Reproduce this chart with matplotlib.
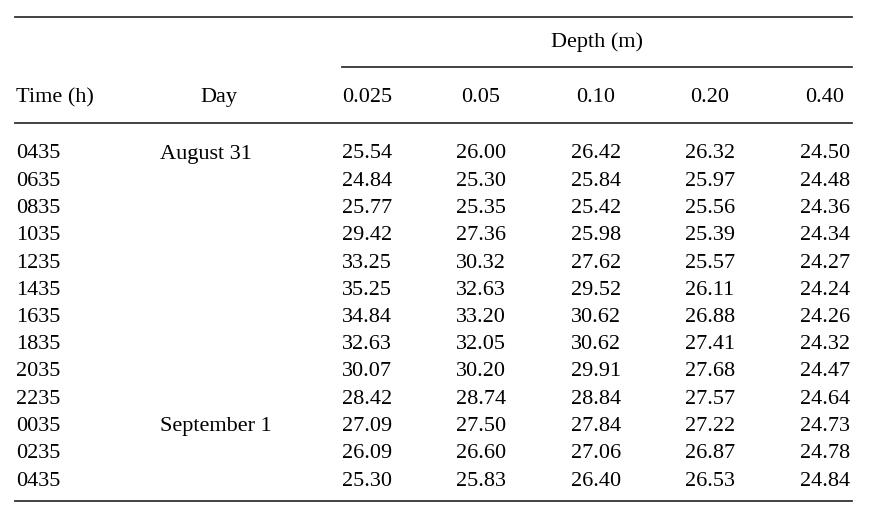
import matplotlib.pyplot as plt

# table contents
times = ['0435', '0635', '0835', '1035', '1235', '1435', '1635',
         '1835', '2035', '2235', '0035', '0235', '0435']
days = ['August 31', '', '', '', '', '', '', '', '', '', 'September 1', '', '']
depths = ['0.025', '0.05', '0.10', '0.20', '0.40']
d0025 = [25.54, 24.84, 25.77, 29.42, 33.25, 35.25, 34.84, 32.63, 30.07, 28.42, 27.09, 26.09, 25.30]
d005 = [26.00, 25.30, 25.35, 27.36, 30.32, 32.63, 33.20, 32.05, 30.20, 28.74, 27.50, 26.60, 25.83]
d010 = [26.42, 25.84, 25.42, 25.98, 27.62, 29.52, 30.62, 30.62, 29.91, 28.84, 27.84, 27.06, 26.40]
d020 = [26.32, 25.97, 25.56, 25.39, 25.57, 26.11, 26.88, 27.41, 27.68, 27.57, 27.22, 26.87, 26.53]
d040 = [24.50, 24.48, 24.36, 24.34, 24.27, 24.24, 24.26, 24.32, 24.47, 24.64, 24.73, 24.78, 24.84]
columns = [d0025, d005, d010, d020, d040]

# layout (pixel units)
col_x = [367, 481, 596, 710, 825]
row0, row_step = 158.5, 27.25
fs = 16
lc = '#333333'

fig = plt.figure(figsize=(8.7, 5.17), dpi=100)
ax = fig.add_axes([0, 0, 1, 1])
ax.set_xlim(0, 870)
ax.set_ylim(517, 0)
ax.axis('off')

plt.rcParams['font.family'] = ['Liberation Serif', 'DejaVu Serif']

# rules
ax.plot([15, 852], [17, 17], color=lc, lw=1.3)
ax.plot([342, 852], [67, 67], color=lc, lw=1.3)
ax.plot([15, 852], [123, 123], color=lc, lw=1.3)
ax.plot([15, 852], [501, 501], color=lc, lw=1.3)

# headers
ax.text(597, 47, 'Depth (m)', ha='center', va='baseline', fontsize=fs)
ax.text(16, 102, 'Time (h)', ha='left', va='baseline', fontsize=fs)
ax.text(219, 102, 'Day', ha='center', va='baseline', fontsize=fs)
for x, d in zip(col_x, depths):
    ax.text(x, 102, d, ha='center', va='baseline', fontsize=fs)

# body
for i in range(len(times)):
    y = row0 + i * row_step
    ax.text(16, y, times[i], ha='left', va='baseline', fontsize=fs)
    if days[i]:
        ax.text(160, y, days[i], ha='left', va='baseline', fontsize=fs)
    for x, col in zip(col_x, columns):
        ax.text(x, y, '%.2f' % col[i], ha='center', va='baseline', fontsize=fs)

fig.savefig('out.png', dpi=100)
